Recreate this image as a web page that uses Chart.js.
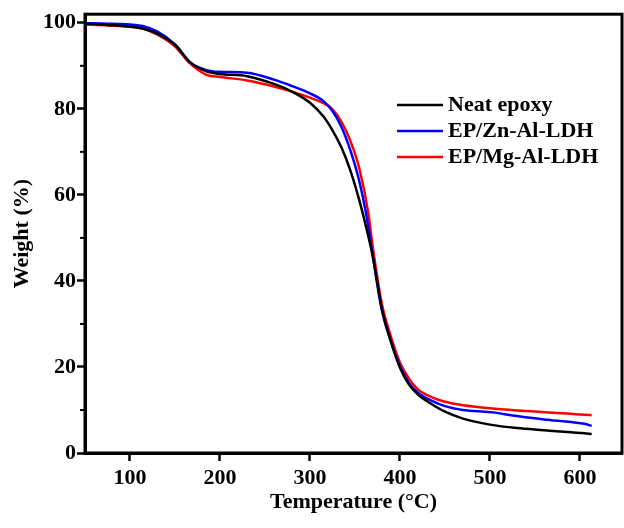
<!DOCTYPE html>
<html>
<head>
<meta charset="utf-8">
<script src="https://cdn.jsdelivr.net/npm/chart.js@4.4.1/dist/chart.umd.min.js"></script>
<style>
  html, body { margin: 0; padding: 0; background: #fff; }
  #wrap { width: 624px; height: 528px; }
</style>
</head>
<body>
<div id="wrap"><canvas id="tga"></canvas></div>
<script>
// temperature (°C) and weight (%)
const temps = [50, 75, 100, 115, 130, 150, 167, 185, 200, 230, 260, 280, 300, 315, 325, 335, 345, 355, 365, 370,
               380, 390, 400, 410, 420, 435, 450, 470, 500, 530, 560, 590, 605, 613];
const neatEpoxy = [99.8, 99.5, 99.1, 98.6, 97.5, 94.9, 90.8, 88.7, 88.1, 87.6, 85.8, 84.0, 81.4, 78.2, 75.0, 71.0, 65.6, 58.6, 50.2, 45.5,
                   33.5, 25.8, 19.8, 15.9, 13.6, 11.4, 9.6, 8.0, 6.6, 5.8, 5.3, 4.8, 4.6, 4.4];
const epZnAl = [99.9, 99.8, 99.6, 99.2, 98.0, 95.0, 90.8, 89.0, 88.6, 88.4, 86.8, 85.3, 83.6, 81.8, 79.5, 75.8, 70.3, 63.0, 52.5, 45.5,
                33.0, 26.0, 20.2, 16.3, 14.0, 12.2, 10.9, 10.0, 9.5, 8.6, 7.8, 7.2, 6.8, 6.3];
const epMgAl = [99.6, 99.4, 99.1, 98.6, 97.3, 94.5, 90.5, 87.9, 87.4, 86.6, 85.2, 84.0, 82.6, 81.3, 79.9, 77.0, 72.5, 66.0, 55.5, 47.5,
                34.5, 27.0, 21.0, 17.3, 14.8, 13.0, 11.9, 11.1, 10.4, 9.9, 9.5, 9.1, 8.9, 8.8];

const xTicks = [100, 200, 300, 400, 500, 600];
const yTicks = [0, 20, 40, 60, 80, 100];
const yMinorTicks = [10, 30, 50, 70, 90];

const seriesNames = ['Neat epoxy', 'EP/Zn-Al-LDH', 'EP/Mg-Al-LDH'];
const seriesColors = ['#000000', '#0000ff', '#ff0000'];

const FONT = 'Liberation Serif, Times New Roman, serif';

function toPoints(ys) {
    return temps.map((t, i) => ({x: t, y: ys[i]}));
}

// frame on top/right, minor ticks on y and the legend inside the plot
const framePlugin = {
    id: 'frame',
    afterDraw(chart) {
        const ctx = chart.ctx;
        const a = chart.chartArea;
        const yScale = chart.scales.y;
        ctx.save();
        ctx.strokeStyle = '#000';
        ctx.lineWidth = 3;
        ctx.strokeRect(a.left, a.top, a.right - a.left, a.bottom - a.top);

        ctx.lineWidth = 2;
        yMinorTicks.forEach(v => {
            const py = yScale.getPixelForValue(v);
            ctx.beginPath();
            ctx.moveTo(a.left - 5, py);
            ctx.lineTo(a.left, py);
            ctx.stroke();
        });

        ctx.font = 'bold 22px ' + FONT;
        ctx.textBaseline = 'middle';
        ctx.textAlign = 'left';
        chart.data.datasets.forEach((ds, i) => {
            const ly = 105 + i * 26;
            ctx.strokeStyle = ds.borderColor;
            ctx.lineWidth = 2.5;
            ctx.beginPath();
            ctx.moveTo(397, ly);
            ctx.lineTo(443, ly);
            ctx.stroke();
            ctx.fillStyle = '#000';
            ctx.fillText(ds.label, 448, ly);
        });
        ctx.restore();
    }
};

new Chart(document.getElementById('tga'), {
    type: 'line',
    data: {
        datasets: [
            {label: seriesNames[0], data: toPoints(neatEpoxy), borderColor: seriesColors[0]},
            {label: seriesNames[1], data: toPoints(epZnAl), borderColor: seriesColors[1]},
            {label: seriesNames[2], data: toPoints(epMgAl), borderColor: seriesColors[2]}
        ]
    },
    options: {
        responsive: true,
        maintainAspectRatio: false,
        animation: false,
        layout: {padding: {top: 14, right: 2, left: 0, bottom: 0}},
        elements: {
            line: {borderWidth: 2.5, cubicInterpolationMode: 'monotone', fill: false},
            point: {radius: 0, hoverRadius: 0}
        },
        plugins: {
            legend: {display: false},
            tooltip: {enabled: false}
        },
        scales: {
            x: {
                type: 'linear',
                min: 50,
                max: 646.7,
                afterBuildTicks: s => { s.ticks = xTicks.map(v => ({value: v})); },
                afterFit: s => { s.height = 75; },
                grid: {drawOnChartArea: false, drawTicks: true, tickLength: 8, tickWidth: 2.5, tickColor: '#000'},
                border: {display: true, color: '#000', width: 3},
                ticks: {color: '#000', padding: 4, maxRotation: 0, font: {family: FONT, size: 22, weight: 'bold'}},
                title: {
                    display: true,
                    text: 'Temperature (°C)',
                    color: '#000',
                    padding: {bottom: 12},
                    font: {family: FONT, size: 22, weight: 'bold'}
                }
            },
            y: {
                min: 0,
                max: 102,
                afterBuildTicks: s => { s.ticks = yTicks.map(v => ({value: v})); },
                afterFit: s => { s.width = 85; },
                grid: {drawOnChartArea: false, drawTicks: true, tickLength: 8, tickWidth: 2.5, tickColor: '#000'},
                border: {display: true, color: '#000', width: 3},
                ticks: {color: '#000', padding: 1, font: {family: FONT, size: 22, weight: 'bold'}},
                title: {
                    display: true,
                    text: 'Weight (%)',
                    color: '#000',
                    padding: {top: 9},
                    font: {family: FONT, size: 22, weight: 'bold'}
                }
            }
        }
    },
    plugins: [framePlugin]
});
</script>
</body>
</html>
